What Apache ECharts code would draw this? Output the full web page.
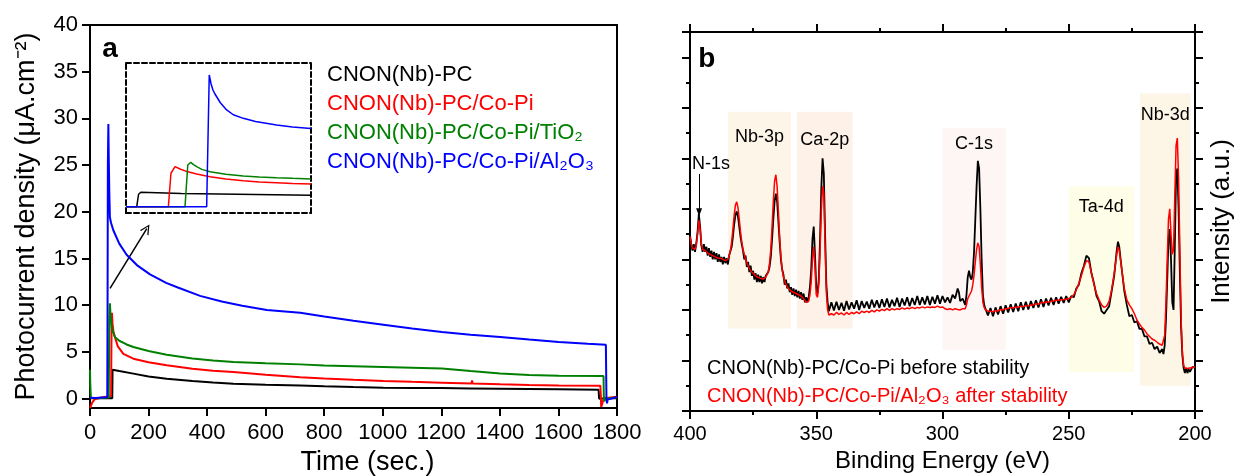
<!DOCTYPE html>
<html><head><meta charset="utf-8">
<script src="https://cdn.jsdelivr.net/npm/echarts@6/dist/echarts.min.js"></script>
<style>html,body{margin:0;padding:0;background:#fff}#c{width:1240px;height:476px}</style>
</head><body><div id="c"></div><script>
// ---------- Panel a : photocurrent vs time ----------
const seriesNamesA = ['CNON(Nb)-PC', 'CNON(Nb)-PC/Co-Pi', 'CNON(Nb)-PC/Co-Pi/TiO₂', 'CNON(Nb)-PC/Co-Pi/Al₂O₃'];
const seriesColorsA = ['#000000', '#ff0000', '#008000', '#0000ff'];
const timeTicks = [0, 200, 400, 600, 800, 1000, 1200, 1400, 1600, 1800];
const currentTicks = [0, 5, 10, 15, 20, 25, 30, 35, 40];

const photoBlack = [[0,0.05],[20,0.05],[40,0.05],[60,0.05],[76,0.05],[77,3.1],[80,3.05],[100,2.95],[148,2.68],[200,2.38],[262,2.14],[350,1.9],[420,1.72],[490,1.6],[600,1.5],[718,1.42],[800,1.33],[900,1.25],[1002,1.18],[1100,1.15],[1202,1.13],[1300,1.1],[1401,1.07],[1500,1.03],[1601,1.0],[1737,0.96],[1739,0.0],[1760,0.05],[1800,0.05]];
const photoRed = [[0,-1.0],[3,-0.8],[8,-0.4],[15,-0.1],[22,0.0],[40,0.12],[60,0.22],[72,0.3],[73,5.0],[74,8.5],[75,9.2],[77,8.0],[80,7.2],[85,6.6],[95,5.6],[114,4.8],[148,4.28],[200,3.9],[262,3.57],[350,3.2],[420,3.0],[490,2.85],[600,2.55],[718,2.3],[800,2.15],[900,2.02],[1002,1.9],[1100,1.8],[1202,1.71],[1303,1.62],[1305,1.95],[1307,1.62],[1401,1.53],[1500,1.47],[1601,1.42],[1743,1.39],[1745,0.2],[1746,-0.9],[1750,-0.5],[1755,0.05],[1760,0.15],[1800,0.2]];
const photoGreen = [[0,3.1],[1,1.5],[3,0.1],[20,0.05],[40,0.08],[64,0.12],[65,4.0],[66,8.5],[68,10.2],[70,9.0],[75,7.5],[85,6.6],[100,6.2],[125,5.8],[148,5.53],[200,5.1],[262,4.7],[350,4.3],[420,4.08],[490,3.92],[600,3.78],[718,3.67],[800,3.56],[900,3.48],[1002,3.4],[1100,3.32],[1202,3.22],[1300,2.95],[1401,2.7],[1500,2.52],[1601,2.44],[1754,2.42],[1755,0.3],[1757,-0.3],[1760,0.0],[1765,0.1],[1800,0.12]];
const photoBlue = [[0,0.1],[20,0.08],[40,0.12],[59,0.15],[60,10],[61,25],[62.7,29.4],[64,26],[66,22],[68,19.4],[72,18.8],[80,18.0],[100,16.6],[125,15.4],[160,14.3],[205,13.3],[260,12.4],[300,11.9],[376,11.0],[450,10.4],[520,9.95],[604,9.5],[718,9.2],[800,8.8],[900,8.35],[1002,7.92],[1100,7.5],[1202,7.13],[1300,6.85],[1401,6.6],[1500,6.32],[1601,6.06],[1700,5.88],[1762,5.78],[1764,0.0],[1766,-0.5],[1768,-0.1],[1770,0.1],[1800,0.18]];

// inset (arbitrary zoomed units, 0-100 both ways)
const insetBlack = [[0,4.2],[5.8,4.2],[6.8,12.5],[8.0,13.8],[9.0,13.1],[30,13.0],[60,12.5],[100,11.8]];
const insetRed = [[0,4.2],[22.9,4.2],[24.3,26.5],[26.5,30.9],[29.2,29.3],[33,27.6],[38.2,26],[45.4,24.2],[54,22.7],[63.4,21.5],[72,20.7],[81.4,20.2],[90,19.7],[100,19.3]];
const insetGreen = [[0,4.2],[10.5,4.2],[11.5,5.0],[12.5,4.2],[31.9,4.2],[33.4,32],[35,33.8],[36.5,32.3],[38.2,30.9],[41,29.1],[45.4,27.5],[54,25.9],[63.4,24.7],[72,24.0],[81.4,23.5],[90,23.1],[100,22.7]];
const insetBlue = [[0,4.2],[43.6,4.2],[45,92],[46,86],[47,82],[48,79.5],[49,77.5],[51,73.5],[54.4,68.7],[58,65.5],[63.4,63.1],[70,61],[81.4,58.7],[90,57.3],[100,56.4]];

// ---------- Panel b : XPS survey ----------
const legendNamesB = ['CNON(Nb)-PC/Co-Pi before stability', 'CNON(Nb)-PC/Co-Pi/Al₂O₃ after stability'];
const peakRegions = [
  {name:'Nb-3p', from:385, to:360, top:11.84, bottom:3.27, color:'#fdf6e8', dist:16},
  {name:'Ca-2p', from:357.6, to:335.6, top:11.84, bottom:3.27, color:'#fdf1e8', dist:19},
  {name:'C-1s', from:300, to:275, top:11.21, bottom:2.41, color:'#fef6f5', dist:7},
  {name:'Ta-4d', from:250, to:224.2, top:8.9, bottom:1.53, color:'#fefde8', dist:12},
  {name:'Nb-3d', from:221.8, to:201.7, top:12.57, bottom:1.0, color:'#fdf5e6', dist:13}
];
const xpsBlack = [[400,6.95],[399.5,6.6],[399,6.35],[398.5,6.6],[398,6.3],[397.5,6.65],[397,7.1],[396.5,7.8],[396,7.3],[395.5,6.55],[395,6.3],[394.5,6.6],[394,6.3],[393.5,6.5],[393,6.15],[392.5,6.45],[392,6.1],[391.5,6.35],[391,6.0],[390.5,6.3],[390,6.0],[389.5,6.25],[389,5.9],[388.5,6.2],[388,5.9],[387.5,6.1],[387,5.8],[386.5,6.1],[386,5.85],[385.5,6.05],[385,5.8],[384.5,6.15],[384,6.1],[383.5,6.5],[383,6.9],[382.5,7.4],[382,7.75],[381.5,7.9],[381,7.7],[380.5,7.3],[380,6.9],[379.5,6.6],[379,6.35],[378.5,6.0],[378,6.15],[377.5,5.7],[377,5.9],[376.5,5.5],[376,5.75],[375.5,5.35],[375,5.55],[374.5,5.2],[374,5.45],[373.5,5.1],[373,5.4],[372.5,5.1],[372,5.35],[371.5,5.05],[371,5.3],[370.5,5.1],[370,5.35],[369.5,5.3],[369,5.5],[368.5,5.7],[368,6.1],[367.5,6.8],[367,7.6],[366.5,8.3],[366,8.6],[365.5,8.3],[365,7.5],[364.5,6.7],[364,6.0],[363.5,5.6],[363,5.4],[362.5,5.0],[362,5.2],[361.5,4.85],[361,5.05],[360.5,4.7],[360,4.9],[359.5,4.6],[359,4.85],[358.5,4.55],[358,4.8],[357.5,4.5],[357,4.75],[356.5,4.45],[356,4.7],[355.5,4.4],[355,4.65],[354.5,4.3],[354,4.5],[353.5,4.3],[353,4.5],[352.5,4.9],[352,5.6],[351.5,6.8],[351,7.3],[350.5,6.2],[350,4.9],[349.5,4.65],[349,5.2],[348.5,6.8],[348,8.8],[347.5,10.0],[347,9.4],[346.5,7.0],[346,5.0],[345.5,4.3],[345,3.95],[344,4.3],[343,3.98],[342,4.32],[341,4.0],[340,4.28],[339,3.97],[338,4.35],[337,4.02],[336,4.3],[335,4.05],[334,4.38],[333,4.0],[332,4.35],[331,4.08],[330,4.33],[329,4.05],[328,4.4],[327,4.1],[326,4.38],[325,4.08],[324,4.42],[323,4.12],[322,4.45],[321,4.1],[320,4.4],[319,4.15],[318,4.48],[317,4.12],[316,4.45],[315,4.18],[314,4.5],[313,4.15],[312,4.47],[311,4.2],[310,4.55],[309,4.2],[308,4.5],[307,4.22],[306,4.55],[305,4.2],[304,4.52],[303,4.25],[302,4.58],[301,4.25],[300,4.55],[299,4.3],[298,4.5],[297,4.28],[296,4.6],[295,4.45],[294,4.85],[293.5,4.7],[293,4.35],[292,4.45],[291,4.2],[290.5,4.6],[290,5.3],[289.5,5.55],[289,5.3],[288.5,5.2],[288,5.5],[287.5,6.3],[287,7.6],[286.5,8.9],[286,9.9],[285.5,9.6],[285,8.0],[284.5,6.0],[284,4.6],[283.5,4.2],[283,4.05],[282,3.78],[281,4.08],[280,3.75],[279,4.1],[278,3.82],[277,4.15],[276,3.85],[275,4.18],[274,3.9],[273,4.22],[272,3.92],[271,4.25],[270,3.95],[269,4.3],[268,4.0],[267,4.32],[266,4.02],[265,4.35],[264,4.08],[263,4.38],[262,4.1],[261,4.42],[260,4.12],[259,4.45],[258,4.18],[257,4.48],[256,4.2],[255,4.5],[254,4.25],[253,4.52],[252,4.28],[251,4.55],[250,4.3],[249,4.55],[248,4.5],[247,4.85],[246,5.0],[245,5.45],[244,5.75],[243,6.15],[242.5,6.1],[242,6.05],[241,5.45],[240,5.05],[239,4.55],[238,4.35],[237,3.95],[236,3.85],[235,4.0],[234,4.15],[233,4.75],[232,5.35],[231,6.35],[230.5,6.7],[230,6.5],[229,5.6],[228,4.75],[227,4.2],[226,3.75],[225,3.8],[224,3.5],[223,3.55],[222,3.25],[221,3.25],[220,2.95],[219,2.95],[218,2.65],[217,2.7],[216,2.45],[215,2.55],[214,2.3],[213,2.45],[212.5,2.25],[212,2.6],[211.5,3.6],[211,5.2],[210.5,6.8],[210,7.2],[209.5,6.0],[209,4.3],[208.5,4.0],[208,6.5],[207.5,9.3],[207,9.6],[206.5,8.0],[206,5.5],[205.5,3.3],[205,2.2],[204.5,1.7],[204,1.5],[203.5,1.7],[203,1.5],[202.5,1.65],[202,1.55],[201,1.75],[200,1.7]];
const xpsRed = [[400,6.9],[399.5,6.6],[399,6.45],[398.5,6.45],[398,6.4],[397.5,6.55],[397,7.0],[396.5,7.55],[396,7.2],[395.5,6.6],[395,6.4],[394,6.35],[393,6.25],[392,6.2],[391,6.15],[390,6.1],[389,6.05],[388,6.05],[387,6.0],[386,5.95],[385.5,5.92],[385,6.0],[384.5,6.15],[384,6.35],[383.5,6.7],[383,7.2],[382.5,7.75],[382,8.15],[381.5,8.28],[381,8.05],[380.5,7.6],[380,7.1],[379.5,6.7],[379,6.4],[378,6.0],[377,5.75],[376,5.55],[375,5.45],[374,5.35],[373,5.28],[372,5.25],[371,5.22],[370,5.3],[369,5.5],[368.5,5.85],[368,6.4],[367.5,7.3],[367,8.3],[366.5,9.1],[366,9.35],[365.5,8.9],[365,7.9],[364.5,6.9],[364,6.1],[363.5,5.6],[363,5.3],[362,5.0],[361,4.85],[360,4.75],[359,4.7],[358,4.65],[357,4.6],[356,4.55],[355,4.45],[354,4.3],[353.5,4.25],[353,4.35],[352.5,4.6],[352,5.1],[351.5,6.0],[351,6.5],[350.5,5.7],[350,4.6],[349.5,4.5],[349,5.0],[348.5,6.3],[348,7.9],[347.5,8.9],[347,8.6],[346.5,6.6],[346,4.7],[345.5,4.0],[345,3.8],[344,3.85],[343,3.8],[342,3.9],[341,3.82],[340,3.88],[339,3.8],[338,3.9],[337,3.82],[336,3.9],[335,3.85],[334,3.92],[333,3.85],[332,3.95],[331,3.9],[330,3.95],[329,3.9],[328,3.98],[327,3.92],[326,4.0],[325,3.95],[324,4.02],[323,3.97],[322,4.05],[321,3.98],[320,4.05],[319,4.0],[318,4.05],[317,4.02],[316,4.08],[315,4.03],[314,4.08],[313,4.05],[312,4.1],[311,4.05],[310,4.1],[309,4.08],[308,4.12],[307,4.08],[306,4.12],[305,4.1],[304,4.12],[303,4.1],[302,4.15],[301,4.1],[300,4.12],[299,4.05],[298,4.02],[297,4.05],[296,4.0],[295,4.05],[294,4.02],[293,4.0],[292,4.05],[291,4.05],[290.5,4.2],[290,4.45],[289.5,4.55],[289,4.6],[288.5,4.75],[288,5.0],[287.5,5.4],[287,5.9],[286.5,6.4],[286,6.65],[285.5,6.5],[285,5.8],[284.5,4.9],[284,4.3],[283.5,4.1],[283,4.0],[282,3.95],[281,3.95],[280,3.92],[279,3.98],[278,3.95],[277,4.02],[276,4.0],[275,4.05],[274,4.05],[273,4.1],[272,4.08],[271,4.12],[270,4.1],[269,4.15],[268,4.12],[267,4.18],[266,4.15],[265,4.2],[264,4.2],[263,4.25],[262,4.22],[261,4.3],[260,4.28],[259,4.32],[258,4.3],[257,4.35],[256,4.35],[255,4.38],[254,4.38],[253,4.4],[252,4.4],[251,4.42],[250,4.45],[249,4.5],[248,4.6],[247,4.8],[246,5.05],[245,5.35],[244,5.7],[243,5.95],[242.5,6.0],[242,5.9],[241,5.45],[240,5.0],[239,4.65],[238,4.4],[237,4.2],[236,4.1],[235,4.15],[234,4.35],[233,4.8],[232,5.45],[231,6.2],[230.5,6.5],[230,6.35],[229,5.6],[228,4.85],[227,4.4],[226,4.2],[225,4.05],[224,3.85],[223,3.6],[222,3.45],[221,3.3],[220,3.2],[219,3.05],[218,2.95],[217,2.85],[216,2.8],[215,2.72],[214,2.65],[213,2.6],[212.5,2.6],[212,3.0],[211.5,4.3],[211,6.0],[210.5,7.6],[210,8.0],[209.5,7.0],[209,6.2],[208.5,6.4],[208,8.5],[207.5,10.5],[207,10.8],[206.5,9.2],[206,6.4],[205.5,3.6],[205,2.3],[204.5,1.8],[204,1.7],[203,1.68],[202,1.7],[201,1.72],[200,1.75]];

// ---------- chart ----------
const FONT = '"Liberation Sans", Arial, Helvetica, sans-serif';
const axisLine = {show:true, onZero:false, lineStyle:{color:'#000', width:2}};
const dashedLine = {show:true, onZero:false, lineStyle:{color:'#000', width:2, type:[5,3]}};
const tickOut = {show:true, inside:false, length:8, lineStyle:{color:'#000', width:2}};
const minorOut = {show:true, splitNumber:2, length:4, lineStyle:{color:'#000', width:2}};
const noTick = {show:false};
const noLabel = {show:false};
const noSplit = {show:false};
const plain = v => String(v);

const chart = echarts.init(document.getElementById('c'), null, {renderer:'canvas'});
const option = {
  animation:false,
  backgroundColor:'#fff',
  textStyle:{fontFamily:FONT},
  grid:[
    {left:90, top:25, width:527, height:383, outerBoundsMode:'none', containLabel:false},
    {left:126, top:63, width:185, height:150, outerBoundsMode:'none', containLabel:false},
    {left:690, top:32, width:505, height:379, outerBoundsMode:'none', containLabel:false}
  ],
  legend:[
    {data:seriesNamesA.map((n,i)=>({name:n, textStyle:{color:seriesColorsA[i]}})),
     orient:'vertical', left:317, top:59, icon:'none', itemWidth:0, itemHeight:0, itemGap:7,
     selectedMode:false, textStyle:{fontSize:22, fontFamily:FONT}},
    {data:[{name:legendNamesB[0], textStyle:{color:'#000'}},{name:legendNamesB[1], textStyle:{color:'#ff0000'}}],
     orient:'vertical', left:697, top:353, icon:'none', itemWidth:0, itemHeight:0, itemGap:8,
     selectedMode:false, textStyle:{fontSize:20, fontFamily:FONT}}
  ],
  xAxis:[
    {gridIndex:0, type:'value', position:'bottom', min:0, max:1800, interval:200,
     axisLine, axisTick:tickOut, splitLine:noSplit,
     axisLabel:{color:'#000', fontSize:22, margin:14, formatter:plain, customValues:timeTicks},
     name:'Time (sec.)', nameLocation:'middle', nameGap:38,
     nameTextStyle:{color:'#000', fontSize:27, padding:[0,0,0,28]}},
    {gridIndex:0, type:'value', position:'top', min:0, max:1800, axisLine, axisTick:noTick, axisLabel:noLabel, splitLine:noSplit},
    {gridIndex:1, type:'value', position:'bottom', min:0, max:100, axisLine:dashedLine, axisTick:noTick, axisLabel:noLabel, splitLine:noSplit},
    {gridIndex:1, type:'value', position:'top', min:0, max:100, axisLine:dashedLine, axisTick:noTick, axisLabel:noLabel, splitLine:noSplit},
    {gridIndex:2, type:'value', position:'bottom', min:200, max:400, interval:50, inverse:true,
     axisLine, axisTick:tickOut, splitLine:noSplit, minorTick:minorOut,
     axisLabel:{color:'#000', fontSize:20, margin:13, formatter:plain},
     name:'Binding Energy (eV)', nameLocation:'middle', nameGap:38,
     nameTextStyle:{color:'#000', fontSize:24}},
    {gridIndex:2, type:'value', position:'top', min:200, max:400, interval:50, inverse:true,
     axisLine, axisTick:tickOut, axisLabel:noLabel, splitLine:noSplit, minorTick:minorOut}
  ],
  yAxis:[
    {gridIndex:0, type:'value', position:'left', min:-1, max:40,
     axisLine, axisTick:Object.assign({customValues:currentTicks}, tickOut), splitLine:noSplit,
     axisLabel:{color:'#000', fontSize:22, margin:12, formatter:plain, customValues:currentTicks},
     name:'Photocurrent density (μA.cm⁻²)', nameLocation:'middle', nameGap:50,
     nameTextStyle:{color:'#000', fontSize:27}},
    {gridIndex:0, type:'value', position:'right', min:-1, max:40, axisLine, axisTick:noTick, axisLabel:noLabel, splitLine:noSplit},
    {gridIndex:1, type:'value', position:'left', min:0, max:100, axisLine:dashedLine, axisTick:noTick, axisLabel:noLabel, splitLine:noSplit},
    {gridIndex:1, type:'value', position:'right', min:0, max:100, axisLine:dashedLine, axisTick:noTick, axisLabel:noLabel, splitLine:noSplit},
    {gridIndex:2, type:'value', position:'left', min:0, max:15, interval:2,
     axisLine, axisTick:tickOut, axisLabel:noLabel, splitLine:noSplit, minorTick:minorOut},
    {gridIndex:2, type:'value', position:'right', min:0, max:15, interval:2,
     axisLine, axisTick:tickOut, axisLabel:noLabel, splitLine:noSplit, minorTick:minorOut,
     name:'Intensity (a.u.)', nameLocation:'middle', nameGap:14,
     nameTextStyle:{color:'#000', fontSize:26}}
  ],
  series:[]
};

const lineBase = {type:'line', showSymbol:false, symbol:'none', silent:true, emphasis:{disabled:true}};
const mainData = [photoBlack, photoRed, photoGreen, photoBlue];
const insetData = [insetBlack, insetRed, insetGreen, insetBlue];

mainData.forEach((d,i)=>{
  const s = Object.assign({}, lineBase, {name:seriesNamesA[i], xAxisIndex:0, yAxisIndex:0, data:d,
    color:seriesColorsA[i], lineStyle:{color:seriesColorsA[i], width:2}, z:3+i});
  if (i === 0) {
    s.markPoint = {silent:true, symbol:'circle', symbolSize:1, itemStyle:{color:'rgba(0,0,0,0)'},
      label:{show:true, position:'inside', formatter:'{b}', color:'#000', fontSize:28, fontWeight:'bold', fontFamily:FONT},
      data:[{name:'a', coord:[68.4, 37.4]}]};
  }
  if (i === 3) {
    s.markLine = {silent:true, symbol:['none','path://M0,10 L5,0 L10,10 L8.6,10 L5,2.6 L1.4,10 Z'], symbolSize:[10,10],
      label:{show:false}, lineStyle:{color:'#000', width:1.5, type:'solid'},
      data:[[{coord:[68.4, 11.8]},{coord:[194, 18.2]}]]};
  }
  option.series.push(s);
});
insetData.forEach((d,i)=>{
  option.series.push(Object.assign({}, lineBase, {name:'inset-'+i, xAxisIndex:2, yAxisIndex:2, data:d,
    color:seriesColorsA[i], lineStyle:{color:seriesColorsA[i], width:1.5}, z:3}));
});

option.series.push(Object.assign({}, lineBase, {name:legendNamesB[0], xAxisIndex:4, yAxisIndex:4, data:xpsBlack,
  color:'#000', lineStyle:{color:'#000', width:1.8}, z:3,
  markArea:{silent:true,
    label:{show:true, position:'insideTop', color:'#000', fontSize:18, fontFamily:FONT},
    data: peakRegions.map(r=>[
      {name:r.name, xAxis:r.from, yAxis:r.top, itemStyle:{color:r.color, opacity:1}, label:{distance:r.dist}},
      {xAxis:r.to, yAxis:r.bottom}
    ])},
  markLine:{silent:true, symbol:['none','triangle'], symbolSize:[6,8], label:{show:false},
    lineStyle:{color:'#000', width:1, type:'solid'},
    data:[[{coord:[396.4, 9.38]},{coord:[396.4, 7.87]}]]},
  markPoint:{silent:true, symbol:'circle', symbolSize:1, itemStyle:{color:'rgba(0,0,0,0)'},
    label:{show:true, position:'inside', formatter:'{b}', color:'#000', fontFamily:FONT},
    data:[{name:'N-1s', coord:[391.7, 9.79], label:{fontSize:18}},
          {name:'b', coord:[393.3, 13.93], label:{fontSize:28, fontWeight:'bold'}}]}
}));
option.series.push(Object.assign({}, lineBase, {name:legendNamesB[1], xAxisIndex:4, yAxisIndex:4, data:xpsRed,
  color:'#ff0000', lineStyle:{color:'#ff0000', width:1.5}, z:4}));

chart.setOption(option);
</script></body></html>
